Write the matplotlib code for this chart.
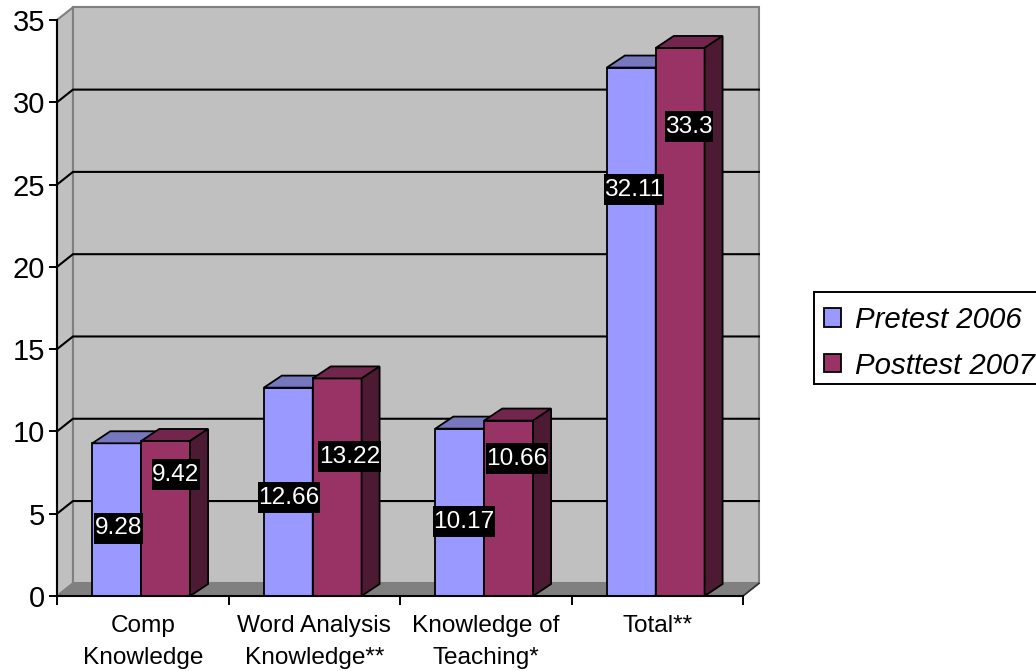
import matplotlib
matplotlib.use('Agg')
import matplotlib.pyplot as plt
from matplotlib.patches import Patch, Rectangle

plt.rcParams['font.family'] = ['Liberation Sans', 'DejaVu Sans']

categories = ['Comp\nKnowledge', 'Word Analysis\nKnowledge**', 'Knowledge of\nTeaching*', 'Total**']
pretest = [9.28, 12.66, 10.17, 32.11]
posttest = [9.42, 13.22, 10.66, 33.3]
pre_labels = ['9.28', '12.66', '10.17', '32.11']
post_labels = ['9.42', '13.22', '10.66', '33.3']
series_names = ['Pretest 2006', 'Posttest 2007']
y_ticks = [0, 5, 10, 15, 20, 25, 30, 35]

# where excel left the data labels (value axis height, offset from group start)
pre_label_y = [4.13, 5.98, 4.5, 24.7]
post_label_y = [7.36, 8.47, 8.35, 28.5]
pre_label_x = [0.359, 0.353, 0.373, 0.364]
post_label_x = [0.694, 0.706, 0.682, 0.685]

W, H = 1036, 671
fig = plt.figure(figsize=(W / 100, H / 100), dpi=100)
ax = fig.add_axes([57 / W, 1 - 596 / H, (743 - 57) / W, (596 - 20) / H])
ax.set_xlim(0, 4)
ax.set_ylim(0, 35)
ax.patch.set_visible(False)

# depth of walls and of bars, in data units
wall_dx, wall_dy = 0.093, 0.77
bar_dx, bar_dy = 0.105, 0.73
bar_w = 0.285
bar_start = 0.206
gray = '#808080'
wall = '#C0C0C0'

# walls and floor
ax.fill([wall_dx, 4 + wall_dx, 4 + wall_dx, wall_dx], [wall_dy, wall_dy, 35 + wall_dy, 35 + wall_dy],
        facecolor=wall, edgecolor=gray, lw=1.5, clip_on=False, zorder=1)
ax.fill([0, wall_dx, wall_dx, 0], [0, wall_dy, 35 + wall_dy, 35],
        facecolor=wall, edgecolor=gray, lw=1.5, clip_on=False, zorder=1)
ax.fill([0, 4, 4 + wall_dx, wall_dx], [0, 0, wall_dy, wall_dy],
        facecolor=gray, edgecolor=gray, lw=1, clip_on=False, zorder=1)
ax.plot([4, 4 + wall_dx], [0, wall_dy], color='#303030', lw=1.2, clip_on=False, zorder=2)

# gridlines run along the back wall and slant back from the axis
for t in y_ticks[1:-1]:
    ax.plot([0, wall_dx, 4 + wall_dx], [t, t + wall_dy, t + wall_dy], color='black', lw=1.5,
            clip_on=False, zorder=2, solid_joinstyle='miter')


def draw_bars(values, start, front, top, side, z):
    for i, v in enumerate(values):
        x0 = i + start
        x1 = x0 + bar_w
        ax.bar(x0, v, bar_w, align='edge', color=front, edgecolor='black', lw=1.3, zorder=z, clip_on=False)
        ax.fill([x0, x1, x1 + bar_dx, x0 + bar_dx], [v, v, v + bar_dy, v + bar_dy],
                facecolor=top, edgecolor='black', lw=1.3, zorder=z, clip_on=False)
        ax.fill([x1, x1 + bar_dx, x1 + bar_dx, x1], [0, bar_dy, v + bar_dy, v],
                facecolor=side, edgecolor='black', lw=1.3, zorder=z, clip_on=False)


draw_bars(pretest, bar_start, '#9999FF', '#7777BF', '#4D4D80', 3)
draw_bars(posttest, bar_start + bar_w, '#993366', '#73264D', '#4D1A33', 4)

# label boxes are taller than the text, so size them from the text extent
renderer = fig.canvas.get_renderer()
for i in range(4):
    for lab, lx, ly in [(pre_labels[i], pre_label_x[i], pre_label_y[i]),
                        (post_labels[i], post_label_x[i], post_label_y[i])]:
        t = ax.text(i + lx, ly, lab, color='white', fontsize=17.6, ha='center', va='center', zorder=7)
        ext = t.get_window_extent(renderer)
        cy = ax.transData.transform((i + lx, ly))[1]
        ax.add_patch(Rectangle((ext.x0 - 0.5, cy - 15.5), ext.width + 1, 31, transform=None,
                               facecolor='black', edgecolor='none', zorder=6, clip_on=False))

ax.spines['top'].set_visible(False)
ax.spines['right'].set_visible(False)
for s in ['left', 'bottom']:
    ax.spines[s].set_linewidth(1.5)
    ax.spines[s].set_zorder(5)

ax.set_yticks(y_ticks)
ax.tick_params(axis='y', labelsize=21, length=6, width=1.4, pad=2.5)
ax.set_xticks(range(5))
ax.set_xticklabels([])
ax.tick_params(axis='x', which='major', length=6.5, width=1.4)
ax.set_xticks([i + 0.5 for i in range(4)], minor=True)
ax.set_xticklabels(categories, minor=True, fontsize=17.6, linespacing=1.55)
ax.tick_params(axis='x', which='minor', length=0, pad=14)

# legend frame runs off the right edge of the picture
fig.add_artist(Rectangle((814 / W, 1 - 384 / H), 240 / W, 92 / H, transform=fig.transFigure,
                         facecolor='white', edgecolor='black', lw=1.4))
handles = [Patch(facecolor='#9999FF', edgecolor='black', lw=1.3),
           Patch(facecolor='#993366', edgecolor='black', lw=1.3)]
fig.legend(handles, series_names, loc='upper left', bbox_to_anchor=(814 / W, 1 - 296 / H),
           borderaxespad=0, frameon=False,
           prop={'style': 'italic', 'size': 21.2}, handlelength=0.58, handleheight=0.58,
           handletextpad=0.47, labelspacing=0.6, borderpad=0.337)

fig.savefig('out.png', dpi=100)
